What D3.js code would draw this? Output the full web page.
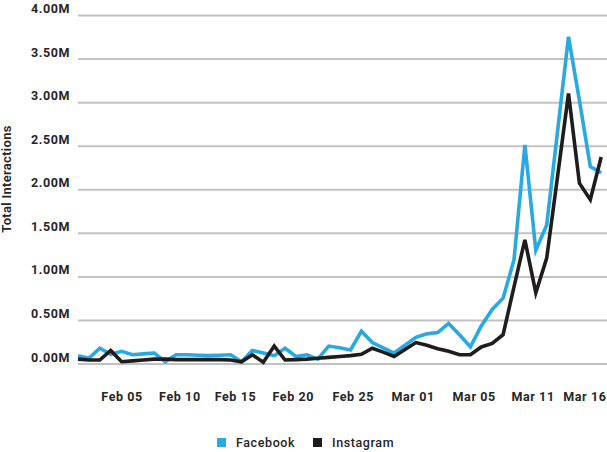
<!DOCTYPE html>
<html lang="en">
<head>
    <meta charset="UTF-8">
    <title>Total Interactions</title>
    <script src="https://cdnjs.cloudflare.com/ajax/libs/d3/7.8.5/d3.min.js"></script>
    <style>
        body {
            margin: 0;
            padding: 0;
            background: #fff;
            overflow: hidden;
        }

        text {
            font-family: Roboto, "Liberation Sans", sans-serif;
            font-weight: bold;
            fill: #262626;
        }

        .grid line {
            stroke: #c2c2c4;
            stroke-width: 2;
        }

        .series {
            fill: none;
            stroke-width: 3.6;
        }
    </style>
</head>
<body>
    <svg id="chart" width="607" height="452"></svg>

    <script>
        // values in millions, one point per day on a category axis
        const facebook = [
            0.09, 0.06, 0.175, 0.105, 0.14, 0.10, 0.11, 0.12, 0.02, 0.10,
            0.10, 0.095, 0.09, 0.095, 0.10, 0.02, 0.15, 0.12, 0.09, 0.175,
            0.08, 0.10, 0.05, 0.20, 0.18, 0.155, 0.37, 0.24, 0.18, 0.12,
            0.21, 0.30, 0.34, 0.355, 0.46, 0.33, 0.19, 0.43, 0.62, 0.75,
            1.19, 2.51, 1.30, 1.59, 2.67, 3.75, 3.02, 2.26, 2.19
        ];
        const instagram = [
            0.05, 0.04, 0.04, 0.15, 0.02, 0.03, 0.04, 0.05, 0.05, 0.045,
            0.045, 0.045, 0.045, 0.045, 0.04, 0.02, 0.10, 0.015, 0.20, 0.04,
            0.045, 0.05, 0.06, 0.07, 0.08, 0.09, 0.105, 0.175, 0.13, 0.08,
            0.16, 0.24, 0.21, 0.17, 0.14, 0.10, 0.10, 0.19, 0.23, 0.33,
            0.88, 1.42, 0.81, 1.21, 2.15, 3.10, 2.07, 1.88, 2.37
        ];

        // x tick labels and where they sit along the point index
        const tickLabels = ["Feb 05", "Feb 10", "Feb 15", "Feb 20", "Feb 25", "Mar 01", "Mar 05", "Mar 11", "Mar 16"];
        const tickIndex = [4, 9.3, 14.4, 19.7, 25.2, 30.7, 36.3, 41.7, 46.45];

        const yTicks = [0, 0.5, 1, 1.5, 2, 2.5, 3, 3.5, 4];
        const seriesNames = ["Facebook", "Instagram"];
        const seriesColors = ["#29a9e0", "#1f1c1d"];

        const svg = d3.select("#chart");
        const plotLeft = 78, plotRight = 607, plotTop = 15, plotBottom = 363.5;

        const x = d3.scaleLinear()
            .domain([0, facebook.length - 1])
            .range([plotLeft, 601.2]);

        const y = d3.scaleLinear()
            .domain([0, 4])
            .range([plotBottom, plotTop]);

        // y axis + gridlines
        const yAxis = svg.append("g")
            .attr("class", "grid")
            .attr("transform", `translate(${plotLeft},0)`)
            .call(d3.axisLeft(y)
                .tickValues(yTicks)
                .tickSize(-(plotRight - plotLeft))
                .tickPadding(8)
                .tickFormat(d => d3.format(".2f")(d) + "M"));
        yAxis.select(".domain").remove();
        yAxis.selectAll("text")
            .attr("dy", "-0.2em")
            .style("font-size", "12.5px")
            .style("letter-spacing", "0.6px");

        // x axis labels only
        const xAxis = svg.append("g")
            .attr("transform", `translate(0,${plotBottom})`)
            .call(d3.axisBottom(x)
                .tickValues(tickIndex)
                .tickSize(0)
                .tickPadding(29)
                .tickFormat((d, i) => tickLabels[i]));
        xAxis.select(".domain").remove();
        xAxis.selectAll("text")
            .style("font-size", "12.5px")
            .style("letter-spacing", "0.6px");

        // y title
        svg.append("text")
            .attr("transform", "translate(11,179) rotate(-90)")
            .attr("text-anchor", "middle")
            .style("font-size", "13px")
            .style("font-weight", "600")
            .style("letter-spacing", "0.3px")
            .text("Total Interactions");

        const line = d3.line()
            .x((d, i) => x(i))
            .y(d => y(d));

        [facebook, instagram].forEach((values, k) => {
            svg.append("path")
                .datum(values)
                .attr("class", "series")
                .attr("stroke", seriesColors[k])
                .attr("d", line);
        });

        // legend
        const legend = svg.append("g")
            .attr("transform", "translate(217,438)");
        const legendX = [0, 96];
        seriesNames.forEach((name, k) => {
            const g = legend.append("g").attr("transform", `translate(${legendX[k]},0)`);
            g.append("rect")
                .attr("width", 9)
                .attr("height", 9)
                .attr("fill", seriesColors[k]);
            g.append("text")
                .attr("x", 19)
                .attr("y", 9)
                .style("font-size", "12.5px")
                .style("font-weight", "500")
                .style("letter-spacing", "0.6px")
                .text(name);
        });
    </script>
</body>
</html>
